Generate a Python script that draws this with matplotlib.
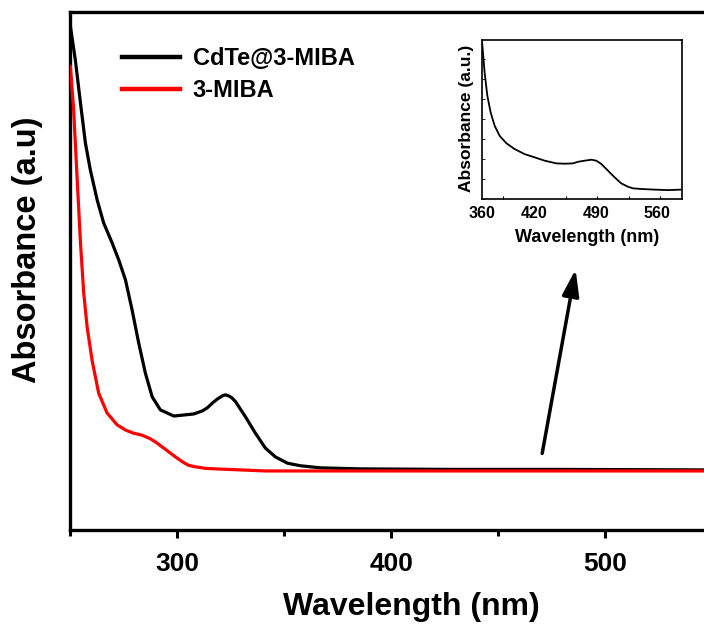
import matplotlib
matplotlib.use("Agg")
import matplotlib.pyplot as plt
from matplotlib.ticker import MultipleLocator, FixedLocator, NullFormatter

plt.rcParams['font.family'] = ['Liberation Sans', 'DejaVu Sans']
plt.rcParams['font.weight'] = 'bold'

# ---- data ----
cdte_wl = [250.2, 252.5, 254.9, 257.2, 259.5, 262.7, 265.7, 269.7, 272.8, 275.9,
           279.0, 282.1, 285.2, 288.4, 292.2, 298.5, 307.8, 311.9, 314.2, 316.5,
           318.9, 321.2, 322.6, 324.0, 325.4, 327.3, 331.9, 336.6, 341.3, 346.0,
           351.6, 357.7, 367.0, 385.7, 427.8, 474.5, 549.0]
cdte_abs = [0.972, 0.907, 0.824, 0.747, 0.695, 0.637, 0.593, 0.554, 0.521, 0.483,
            0.425, 0.361, 0.303, 0.257, 0.232, 0.220, 0.224, 0.230, 0.236, 0.245,
            0.253, 0.259, 0.261, 0.259, 0.256, 0.248, 0.219, 0.187, 0.158, 0.141,
            0.129, 0.124, 0.120, 0.118, 0.117, 0.117, 0.116]

miba_wl = [250.2, 251.7, 253.3, 254.9, 256.4, 258.0, 260.3, 263.4, 267.3, 272.0,
           275.9, 279.6, 283.7, 287.6, 289.9, 293.2, 296.1, 299.3, 302.4, 305.3,
           308.6, 313.3, 317.9, 341.3, 385.7, 549.0]
miba_abs = [0.894, 0.811, 0.681, 0.554, 0.458, 0.392, 0.328, 0.264, 0.226, 0.203,
            0.193, 0.187, 0.183, 0.176, 0.170, 0.160, 0.151, 0.141, 0.132, 0.125,
            0.122, 0.119, 0.118, 0.114, 0.114, 0.114]

inset_wl = [360.0, 360.8, 363.0, 366.1, 369.9, 374.5, 380.2, 387.8, 397.3, 408.8,
            420.2, 431.6, 445.0, 454.5, 464.0, 469.7, 477.3, 485.0, 490.7, 496.4,
            504.0, 511.6, 519.2, 526.9, 532.6, 542.1, 557.3, 572.6, 587.8]
inset_abs = [0.990, 0.941, 0.795, 0.649, 0.544, 0.460, 0.397, 0.351, 0.314, 0.282,
             0.262, 0.241, 0.224, 0.222, 0.224, 0.234, 0.241, 0.247, 0.241, 0.220,
             0.178, 0.136, 0.098, 0.077, 0.067, 0.063, 0.059, 0.056, 0.059]

main_xticks = [300, 400, 500]
inset_xticklabels = [360, 420, 490, 560]
inset_tickmarks = [384, 420, 456, 492, 528, 564]
labels = ['CdTe@3-MIBA', '3-MIBA']

W, H = 704, 630
fig = plt.figure(figsize=(W / 100, H / 100), dpi=100)

def px_rect(l, t, r, b):
    return [l / W, (H - b) / H, (r - l) / W, (b - t) / H]

# ---- main axes ----
ax = fig.add_axes(px_rect(70, 12, 710, 530))
ax.plot(cdte_wl, cdte_abs, color='black', lw=2.3, label=labels[0], zorder=2)
ax.plot(miba_wl, miba_abs, color='#ff0000', lw=2.3, label=labels[1], zorder=3)
ax.set_xlim(250, 549)
ax.set_ylim(0, 1)
ax.xaxis.set_major_locator(FixedLocator(main_xticks))
ax.xaxis.set_minor_locator(MultipleLocator(50))
ax.set_yticks([])
for s in ax.spines.values():
    s.set_linewidth(2.4)
ax.tick_params(axis='x', which='major', direction='out', length=6, width=2.2,
               labelsize=19, pad=9.5)
ax.tick_params(axis='x', which='minor', direction='out', length=4, width=2.2)
for t in ax.get_xticklabels():
    t.set_fontweight('bold')

leg = ax.legend(loc='upper left', bbox_to_anchor=(121.7 / W, (H - 47) / H),
                bbox_transform=fig.transFigure, frameon=False, fontsize=17,
                handlelength=2.45, handletextpad=0.55, labelspacing=0.38,
                borderpad=0, borderaxespad=0)
for line in leg.get_lines():
    line.set_linewidth(3.2)
for t in leg.get_texts():
    t.set_fontweight('bold')

fig.text(411 / W, 1 - 607 / H, 'Wavelength (nm)', ha='center', va='center',
         fontsize=23, fontweight='bold')
fig.text(28 / W, 1 - 250 / H, 'Absorbance (a.u)', ha='center', va='center',
         rotation=90, fontsize=23.5, fontweight='bold')

# arrow
ax.annotate('', xy=(486.2, 0.503), xytext=(470.6, 0.148),
            arrowprops=dict(arrowstyle='-|>,head_length=1.0,head_width=0.32',
                            mutation_scale=16, lw=2.5, color='black',
                            shrinkA=0, shrinkB=0))

# ---- inset ----
ins = fig.add_axes(px_rect(482, 40, 682, 199))
ins.plot(inset_wl, inset_abs, color='black', lw=1.3)
ins.set_xlim(360, 588.6)
ins.set_ylim(0, 1)
ins.xaxis.set_major_locator(FixedLocator(inset_xticklabels))
ins.xaxis.set_minor_locator(FixedLocator(inset_tickmarks))
ins.yaxis.set_major_locator(MultipleLocator(0.1255))
ins.yaxis.set_major_formatter(NullFormatter())
for s in ins.spines.values():
    s.set_linewidth(1.2)
ins.tick_params(axis='x', which='major', direction='in', length=0, labelsize=11.5, pad=5)
ins.tick_params(axis='x', which='minor', direction='in', length=2.5, width=0.8)
ins.tick_params(axis='y', direction='in', length=2, width=0.6)
for t in ins.get_xticklabels():
    t.set_fontweight('bold')
fig.text(587 / W, 1 - 238 / H, 'Wavelength (nm)', ha='center', va='center',
         fontsize=13, fontweight='bold')
fig.text(467 / W, 1 - 118.5 / H, 'Absorbance (a.u.)', ha='center', va='center',
         rotation=90, fontsize=12.5, fontweight='bold')

fig.savefig('out.png', dpi=100)
